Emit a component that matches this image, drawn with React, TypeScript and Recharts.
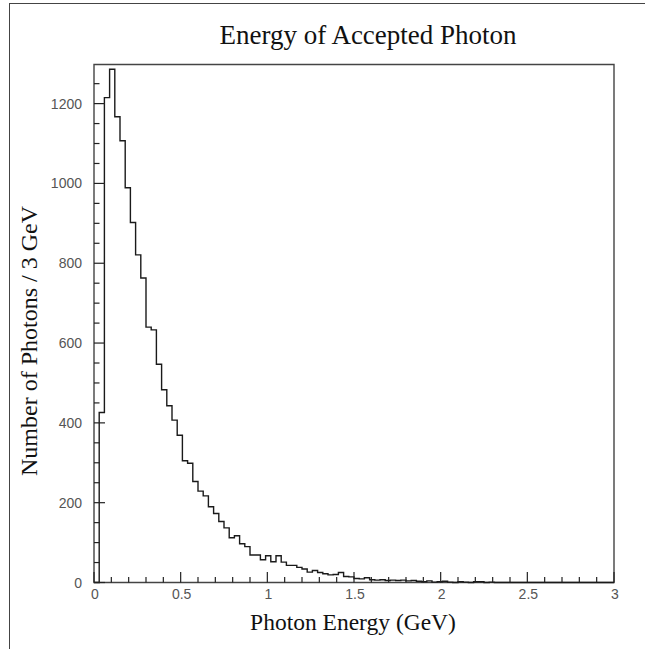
import { LineChart, Line, XAxis, YAxis, ReferenceArea } from "recharts";

// 100 bins of 0.03 GeV between 0 and 3 GeV
const binWidth = 0.03;
const counts = [
  0, 426, 1215, 1286, 1167, 1107, 989, 902, 821, 763,
  640, 633, 547, 483, 443, 407, 369, 305, 299, 253,
  229, 217, 190, 173, 153, 137, 112, 117, 97, 90,
  69, 69, 57, 67, 52, 67, 51, 43, 43, 38,
  34, 26, 30, 25, 22, 19, 20, 25, 15, 14,
  10, 9, 12, 7, 6, 7, 5, 6, 5, 6,
  4, 5, 3, 2, 4, 1, 2, 3, 1, 0,
  2, 1, 0, 2, 2, 0, 1, 0, 0, 0,
  0, 0, 0, 0, 0, 0, 0, 0, 0, 0,
  0, 0, 0, 0, 0, 0, 0, 0, 0, 0,
];

const xTicks = [
  0, 0.1, 0.2, 0.3, 0.4, 0.5, 0.6, 0.7, 0.8, 0.9, 1, 1.1, 1.2, 1.3, 1.4, 1.5,
  1.6, 1.7, 1.8, 1.9, 2, 2.1, 2.2, 2.3, 2.4, 2.5, 2.6, 2.7, 2.8, 2.9, 3,
];
const xMajor = [0, 0.5, 1, 1.5, 2, 2.5, 3];
const yTicks = [
  0, 50, 100, 150, 200, 250, 300, 350, 400, 450, 500, 550, 600, 650, 700, 750,
  800, 850, 900, 950, 1000, 1050, 1100, 1150, 1200, 1250,
];
const yMajor = [0, 200, 400, 600, 800, 1000, 1200];
const yMax = 1298;

const histData = counts
  .map((n, i) => ({ e: +(i * binWidth).toFixed(2), n }))
  .concat([{ e: 3, n: 0 }]);

const isIn = (list: number[], v: number) => list.some((m) => Math.abs(m - v) < 1e-6);

const XTick = (props: any) => {
  const { x, y, payload } = props;
  const major = isIn(xMajor, payload.value);
  return (
    <g>
      <line x1={x} x2={x} y1={y} y2={y - (major ? 10.5 : 5.5)} stroke="#222" strokeWidth={1.2} />
      {major && (
        <text x={x + 1} y={y + 16} textAnchor="middle" fontFamily="Liberation Sans" fontSize={14} fill="#555">
          {String(payload.value)}
        </text>
      )}
    </g>
  );
};

const YTick = (props: any) => {
  const { x, y, payload } = props;
  const major = isIn(yMajor, payload.value);
  return (
    <g>
      <line x1={x} x2={x + (major ? 11 : 5.5)} y1={y} y2={y} stroke="#222" strokeWidth={1.2} />
      {major && (
        <text x={x - 12} y={y + 5} textAnchor="end" fontFamily="Liberation Sans" fontSize={14} fill="#555">
          {String(payload.value)}
        </text>
      )}
    </g>
  );
};

export default function App() {
  return (
    <div style={{ position: "absolute", left: 0, top: 0, width: 645, height: 649, background: "#fff" }}>
      <div
        style={{
          position: "absolute",
          left: 9,
          top: 3,
          width: 636,
          height: 646,
          borderLeft: "1px solid #444",
          borderTop: "1px solid #444",
        }}
      />
      <LineChart
        width={645}
        height={649}
        data={histData}
        margin={{ top: 64.5, right: 31, bottom: 65.5, left: 93 }}
      >
        <XAxis
          dataKey="e"
          type="number"
          domain={[0, 3]}
          ticks={xTicks}
          interval={0}
          height={1}
          axisLine={false}
          tickLine={false}
          tickSize={0}
          tickMargin={0}
          tick={<XTick />}
        />
        <YAxis
          type="number"
          domain={[0, yMax]}
          ticks={yTicks}
          interval={0}
          width={1}
          axisLine={false}
          tickLine={false}
          tickSize={0}
          tickMargin={0}
          tick={<YTick />}
        />
        <ReferenceArea x1={0} x2={3} y1={0} y2={yMax} fill="none" stroke="#444" strokeWidth={1.4} />
        <Line
          type="stepAfter"
          dataKey="n"
          stroke="#1a1a1a"
          strokeWidth={1.4}
          dot={false}
          activeDot={false}
          isAnimationActive={false}
        />
      </LineChart>
      <svg
        width={645}
        height={649}
        style={{ position: "absolute", left: 0, top: 0, pointerEvents: "none" }}
      >
        <text x={368} y={44} textAnchor="middle" fontFamily="Liberation Serif" fontSize={27} fill="#111">
          Energy of Accepted Photon
        </text>
        <text x={353} y={630} textAnchor="middle" fontFamily="Liberation Serif" fontSize={23.5} fill="#111">
          Photon Energy (GeV)
        </text>
        <text
          x={0}
          y={0}
          transform="translate(37 341) rotate(-90)"
          textAnchor="middle"
          fontFamily="Liberation Serif"
          fontSize={24}
          fill="#111"
        >
          Number of Photons / 3 GeV
        </text>
      </svg>
    </div>
  );
}
